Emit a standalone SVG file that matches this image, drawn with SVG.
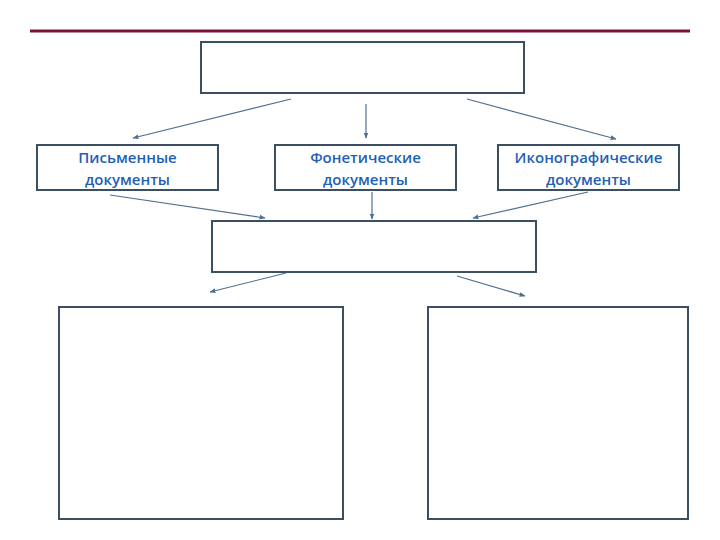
<svg xmlns="http://www.w3.org/2000/svg" width="720" height="540" viewBox="0 0 720 540">
<defs>
<style>
.box{fill:#ffffff;stroke:#3b4f63;stroke-width:2}
.lbl{font-family:"Open Sans","Liberation Sans",sans-serif;font-size:15px;font-weight:600;fill:#1f5fb4;text-anchor:middle}
.con{stroke:#4f6f8f;stroke-width:1.2;fill:none;marker-end:url(#ah)}
</style>
<marker id="ah" viewBox="0 0 10 10" refX="9" refY="5" markerWidth="6" markerHeight="6" orient="auto" markerUnits="userSpaceOnUse">
<path d="M0,1 L10,5 L0,9 z" fill="#4f6f8f"/>
</marker>
</defs>
<rect width="720" height="540" fill="#ffffff"/>
<line x1="30" y1="31" x2="690" y2="31" stroke="#7b1238" stroke-width="3"/>
<g id="top"><rect class="box" x="201" y="42" width="323" height="51"/></g>
<g id="pismennye"><rect class="box" x="37" y="145" width="181" height="45"/><text class="lbl" x="127.5" y="163">Письменные</text><text class="lbl" x="127.5" y="185">документы</text></g>
<g id="foneticheskie"><rect class="box" x="275" y="145" width="181" height="45"/><text class="lbl" x="365.5" y="163">Фонетические</text><text class="lbl" x="365.5" y="185">документы</text></g>
<g id="ikonograficheskie"><rect class="box" x="498" y="145" width="181" height="45"/><text class="lbl" x="588.5" y="163">Иконографические</text><text class="lbl" x="588.5" y="185">документы</text></g>
<g id="middle"><rect class="box" x="212" y="221" width="324" height="51"/></g>
<g id="bottomLeft"><rect class="box" x="59" y="307" width="284" height="212"/></g>
<g id="bottomRight"><rect class="box" x="428" y="307" width="260" height="212"/></g>
<g id="connectors">
<line class="con" x1="291" y1="99" x2="133" y2="138"/>
<line class="con" x1="366" y1="104" x2="366" y2="138"/>
<line class="con" x1="467" y1="99" x2="616" y2="139"/>
<line class="con" x1="110" y1="195" x2="265" y2="218"/>
<line class="con" x1="372" y1="192" x2="372" y2="219"/>
<line class="con" x1="588" y1="192" x2="473" y2="218"/>
<line class="con" x1="286" y1="273" x2="210" y2="292"/>
<line class="con" x1="457" y1="276" x2="525" y2="296"/>
</g>
</svg>
